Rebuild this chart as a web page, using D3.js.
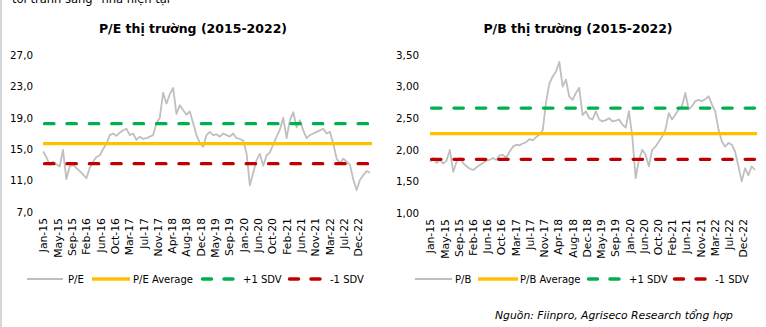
<!DOCTYPE html>
<html>
<head>
<meta charset="utf-8">
<script src="https://cdn.jsdelivr.net/npm/d3@7"></script>
<style>
  html, body { margin: 0; padding: 0; background: #fff; }
  svg { display: block; font-family: "DejaVu Sans", Verdana, sans-serif; }
</style>
</head>
<body>
<svg id="chart" width="766" height="327"></svg>
<script>
// ---------------- DATA ----------------
const tickLabels = ["Jan-15","May-15","Sep-15","Feb-16","Jun-16","Oct-16","Mar-17","Jul-17","Nov-17",
  "Apr-18","Aug-18","Dec-18","May-19","Sep-19","Jan-20","Jun-20","Oct-20","Feb-21","Jun-21","Nov-21",
  "Mar-22","Jul-22","Dec-22"];

// monthly readings, Jan 2015 .. Mar 2023
const peValues = [14.7,14.0,13.0,13.4,13.1,12.8,14.9,11.2,12.8,13.0,12.6,12.2,11.8,11.3,12.6,13.4,14.0,14.2,15.0,15.7,
  16.8,17.0,16.7,17.1,17.4,17.6,16.8,17.0,16.2,16.6,16.3,16.4,16.6,16.8,18.3,19.0,22.2,20.8,22.0,22.8,
  19.5,20.6,20.0,19.4,19.8,18.3,16.8,15.8,15.3,16.8,17.2,16.8,16.9,16.6,17.0,16.8,16.6,17.0,16.4,16.3,
  16.1,14.5,10.4,12.0,13.6,14.4,12.9,14.2,14.6,15.6,16.6,17.5,19.0,16.4,18.7,19.7,17.8,18.7,17.4,16.4,
  16.8,17.0,17.2,17.4,17.6,17.0,17.2,15.7,13.8,13.2,13.8,13.4,13.0,11.1,9.8,11.1,11.7,12.2,12.0];
const peAverage = 15.7;
const pePlusSd = 18.25;
const peMinusSd = 13.15;
const peTicks = [7, 11, 15, 19, 23, 27];

const pbValues = [1.81,1.87,1.79,1.84,1.78,1.83,2.00,1.65,1.81,1.87,1.79,1.74,1.70,1.68,1.72,1.76,1.79,1.83,1.84,1.87,
  1.84,1.91,1.92,1.87,1.97,2.05,2.08,2.07,2.10,2.12,2.17,2.15,2.20,2.24,2.31,2.76,3.05,3.16,3.24,3.39,
  3.00,3.11,2.84,2.79,2.90,2.98,2.55,2.61,2.50,2.48,2.61,2.48,2.45,2.47,2.50,2.45,2.46,2.48,2.40,2.35,
  2.61,2.21,1.55,1.84,2.00,1.92,1.74,2.00,2.05,2.13,2.21,2.32,2.58,2.48,2.56,2.64,2.69,2.90,2.64,2.69,
  2.77,2.79,2.77,2.80,2.85,2.72,2.61,2.32,2.13,2.05,2.11,2.08,1.97,1.74,1.50,1.71,1.60,1.74,1.68];
const pbAverage = 2.255;
const pbPlusSd = 2.66;
const pbMinusSd = 1.85;
const pbTicks = [1.0, 1.5, 2.0, 2.5, 3.0, 3.5];

// ---------------- DRAW ----------------
const svg = d3.select("#chart");
const COL = { series: "#bfbfbf", avg: "#ffc000", up: "#00b050", down: "#c00000" };
const fmtComma = (dec) => (d) => d.toFixed(dec).replace(".", ",");

// page frame + cut-off text line above the charts (cropped in the reference too)
svg.append("line").attr("x1", 1).attr("x2", 1).attr("y1", 0).attr("y2", 327)
  .attr("stroke", "#c8c8c8").attr("stroke-width", 1.5);
svg.append("text").attr("x", 12).attr("y", 3).attr("font-size", 11.5).attr("fill", "#000")
  .text("tới tránh sang \u201cnhà hiện tại\u201d");

function drawPanel(cfg) {
  const g = svg.append("g");
  const n = cfg.values.length;
  const x = d3.scaleLinear().domain([0, n - 1]).range([cfg.x0, cfg.x1]);
  const y = d3.scaleLinear().domain(cfg.yDomain).range([cfg.yBottom, cfg.yTop]);

  // title
  g.append("text").attr("x", cfg.titleX).attr("y", 33).attr("text-anchor", "middle")
    .attr("font-size", 12.5).attr("font-weight", "bold").attr("fill", "#000").text(cfg.title);

  // y axis
  const ya = d3.axisLeft(y).tickValues(cfg.yTicks).tickFormat(fmtComma(cfg.dec)).tickSize(0).tickPadding(0);
  const yg = g.append("g").attr("transform", `translate(${cfg.yLabelX},0)`).call(ya);
  yg.select(".domain").remove();
  yg.selectAll("text").attr("font-size", 10.3).attr("fill", "#000")
    .attr("font-family", "DejaVu Sans, sans-serif");

  // x axis (labels only, evenly spaced as in the category axis)
  const lastTickPos = (n - 1) * 0.9633;
  const tickPos = tickLabels.map((_, i) => i * lastTickPos / (tickLabels.length - 1));
  const xa = d3.axisBottom(x).tickValues(tickPos).tickFormat((d, i) => tickLabels[i]).tickSize(0).tickPadding(0);
  const xg = g.append("g").attr("transform", `translate(0,${cfg.yBottom + 6})`).call(xa);
  xg.select(".domain").remove();
  xg.selectAll("text").attr("font-size", 10.8).attr("fill", "#000")
    .attr("font-family", "DejaVu Sans, sans-serif")
    .attr("text-anchor", "end").attr("transform", "rotate(-90)")
    .attr("x", 0).attr("y", 0).attr("dx", 0).attr("dy", "0.35em");

  // reference lines
  const hline = (v, color, dashed) => {
    const l = g.append("line").attr("x1", cfg.x0).attr("x2", cfg.x1 + 2)
      .attr("y1", y(v)).attr("y2", y(v)).attr("stroke", color).attr("stroke-width", 3.2);
    if (dashed) l.attr("stroke-dasharray", "9.5,12.9").attr("stroke-linecap", "round")
      .attr("x1", cfg.x0 + 1.5);
  };

  // series
  const line = d3.line().x((d, i) => x(i)).y(d => y(d));
  g.append("path").datum(cfg.values).attr("d", line).attr("fill", "none")
    .attr("stroke", COL.series).attr("stroke-width", 1.8).attr("stroke-linejoin", "round");

  hline(cfg.avg, COL.avg, false);
  hline(cfg.up, COL.up, true);
  hline(cfg.down, COL.down, true);

  // legend
  const ly = 279;
  const L = cfg.legend;
  g.append("line").attr("x1", L[0]).attr("x2", L[1]).attr("y1", ly).attr("y2", ly)
    .attr("stroke", COL.series).attr("stroke-width", 2);
  g.append("text").attr("x", L[2]).attr("y", ly).attr("dy", "0.35em").attr("font-size", 10).text(cfg.names[0]);
  g.append("line").attr("x1", L[3]).attr("x2", L[4]).attr("y1", ly).attr("y2", ly)
    .attr("stroke", COL.avg).attr("stroke-width", 3.5);
  g.append("text").attr("x", L[5]).attr("y", ly).attr("dy", "0.35em").attr("font-size", 10).text(cfg.names[1]);
  [[L[6], COL.up, L[7], cfg.names[2]], [L[8], COL.down, L[9], cfg.names[3]]].forEach(([lx, c, tx, name]) => {
    g.append("line").attr("x1", lx + 1.5).attr("x2", lx + 34).attr("y1", ly).attr("y2", ly)
      .attr("stroke", c).attr("stroke-width", 3.5).attr("stroke-linecap", "round")
      .attr("stroke-dasharray", "9,12.5");
    g.append("text").attr("x", tx).attr("y", ly).attr("dy", "0.35em").attr("font-size", 10).text(name);
  });
}

drawPanel({
  title: "P/E thị trường (2015-2022)", titleX: 193,
  values: peValues, avg: peAverage, up: pePlusSd, down: peMinusSd,
  yDomain: [7, 27], yTicks: peTicks, dec: 1,
  x0: 43, x1: 370, yTop: 55, yBottom: 212, yLabelX: 33,
  names: ["P/E", "P/E Average", "+1 SDV", "-1 SDV"],
  legend: [27, 63, 68, 92, 130, 133, 201, 243, 288, 330]
});

drawPanel({
  title: "P/B thị trường (2015-2022)", titleX: 578,
  values: pbValues, avg: pbAverage, up: pbPlusSd, down: pbMinusSd,
  yDomain: [1.0, 3.5], yTicks: pbTicks, dec: 2,
  x0: 430, x1: 755, yTop: 55, yBottom: 213, yLabelX: 419,
  names: ["P/B", "P/B Average", "+1 SDV", "-1 SDV"],
  legend: [415, 452, 455, 478, 518, 520, 587, 629, 673, 715]
});

// source note
svg.append("text").attr("x", 495).attr("y", 319).attr("font-size", 10.8).attr("font-style", "italic")
  .attr("fill", "#000").text("Nguồn: Fiinpro, Agriseco Research tổng hợp");
</script>
</body>
</html>
